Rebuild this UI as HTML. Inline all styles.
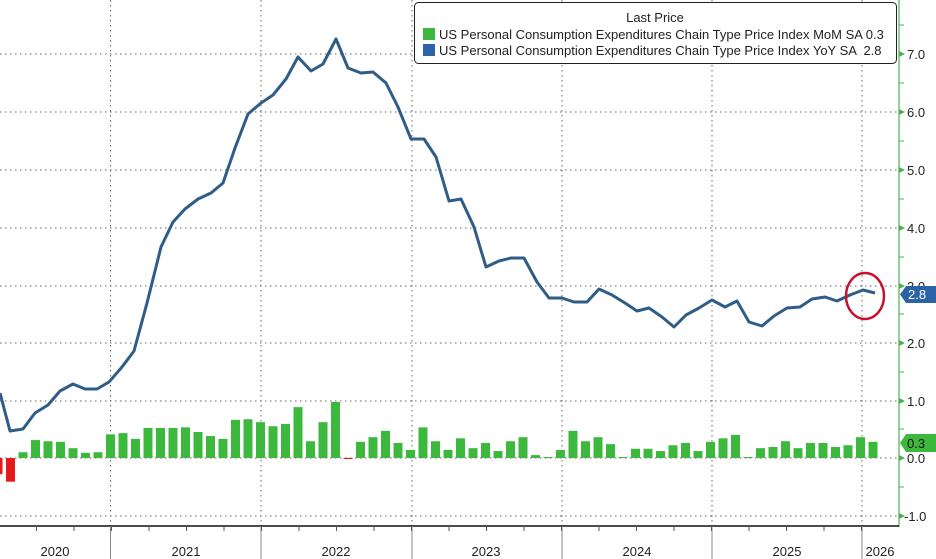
<!DOCTYPE html>
<html><head><meta charset="utf-8"><style>
html,body{margin:0;padding:0;background:#fff;}
svg{display:block;font-family:"Liberation Sans",sans-serif;}
</style></head><body>
<svg width="936" height="559" viewBox="0 0 936 559" xmlns="http://www.w3.org/2000/svg">
<rect width="936" height="559" fill="#fff"/>
<g stroke="#666" stroke-width="1" stroke-dasharray="1.5,3.5">
<line x1="0" y1="54" x2="899" y2="54"/><line x1="0" y1="112" x2="899" y2="112"/>
<line x1="0" y1="170" x2="899" y2="170"/><line x1="0" y1="228" x2="899" y2="228"/>
<line x1="0" y1="286" x2="899" y2="286"/><line x1="0" y1="343" x2="899" y2="343"/>
<line x1="0" y1="401" x2="899" y2="401"/><line x1="0" y1="458" x2="899" y2="458"/>
<line x1="0" y1="516" x2="899" y2="516"/>
<line x1="110.5" y1="0" x2="110.5" y2="526"/><line x1="261" y1="0" x2="261" y2="526"/>
<line x1="412" y1="0" x2="412" y2="526"/><line x1="562" y1="0" x2="562" y2="526"/>
<line x1="712" y1="0" x2="712" y2="526"/><line x1="862" y1="0" x2="862" y2="526"/>
</g>
<g id="bars"></g>
<polyline fill="none" stroke="#2f5d88" stroke-width="3" stroke-linejoin="round" points="0,393 10,431 23,429 35,413 48,405 60,391 73,384 85,389 97,389 109,382 122,367 134,351 147,303 161,247 173,222 185,209 198,199 211,193 223,183 235,148 248,114 261,103 273,95 286,79 298,57 311,71 323,64 336,39 348,68 361,73 373,72 386,83 398,107 411,139 424,139 436,157 449,201 461,199 474,227 486,267 499,261 511,258 524,258 537,282 549,298 562,298 574,302 587,302 599,289 612,295 625,303 637,311 649,308 662,317 674,327 686,315 699,308 712,300 725,307 737,301 749,322 762,326 774,316 787,308 800,307 812,299 825,297 837,301 850,295 863,290 875,293"/>
<ellipse cx="865" cy="296" rx="19" ry="23" fill="none" stroke="#c8102e" stroke-width="2.5"/>
<line x1="899" y1="0" x2="899" y2="527" stroke="#4caf50" stroke-width="1.2"/>
<g fill="#4caf50">
<polygon points="899,51 905,54 899,57"/><polygon points="899,109 905,112 899,115"/>
<polygon points="899,167 905,170 899,173"/><polygon points="899,225 905,228 899,231"/>
<polygon points="899,283 905,286 899,289"/><polygon points="899,340 905,343 899,346"/>
<polygon points="899,398 905,401 899,404"/><polygon points="899,455 905,458 899,461"/>
<polygon points="899,513 905,516 899,519"/>
</g>
<g stroke="#4caf50" stroke-width="1">
<line x1="899" y1="25" x2="904" y2="25"/><line x1="899" y1="83" x2="904" y2="83"/>
<line x1="899" y1="141" x2="904" y2="141"/><line x1="899" y1="199" x2="904" y2="199"/>
<line x1="899" y1="257" x2="904" y2="257"/><line x1="899" y1="314" x2="904" y2="314"/>
<line x1="899" y1="372" x2="904" y2="372"/><line x1="899" y1="429" x2="904" y2="429"/>
<line x1="899" y1="487" x2="904" y2="487"/>
</g>
<g font-size="13" fill="#222">
<text x="907" y="59">7.0</text><text x="907" y="117">6.0</text><text x="907" y="175">5.0</text>
<text x="907" y="233">4.0</text><text x="907" y="291">3.0</text><text x="907" y="348">2.0</text>
<text x="907" y="406">1.0</text><text x="907" y="463">0.0</text><text x="904" y="521">-1.0</text>
</g>
<polygon points="900,294.5 906,286 936,286 936,303 906,303" fill="#2b64a6"/>
<text x="908" y="299" font-size="13" fill="#fff">2.8</text>
<polygon points="900,443 906,434 936,434 936,452 906,452" fill="#3cb93c"/>
<text x="907" y="448" font-size="13" fill="#111">0.3</text>
<line x1="0" y1="526" x2="899" y2="526" stroke="#111" stroke-width="1.5"/>
<g stroke="#888" stroke-width="1">
<line x1="110.5" y1="526" x2="110.5" y2="559"/><line x1="261" y1="526" x2="261" y2="559"/>
<line x1="412" y1="526" x2="412" y2="559"/><line x1="562" y1="526" x2="562" y2="559"/>
<line x1="712" y1="526" x2="712" y2="559"/><line x1="862" y1="526" x2="862" y2="559"/>
</g>
<g stroke="#555" stroke-width="1" id="mt"></g>
<g font-size="13" fill="#222" text-anchor="middle">
<text x="55" y="556">2020</text><text x="186" y="556">2021</text><text x="336" y="556">2022</text>
<text x="486" y="556">2023</text><text x="637" y="556">2024</text><text x="787" y="556">2025</text>
<text x="880" y="556">2026</text>
</g>
<rect x="414.5" y="2.5" width="482" height="61" rx="4" fill="#fff" stroke="#222" stroke-width="1"/>
<text x="655" y="22" font-size="13" fill="#222" text-anchor="middle">Last Price</text>
<rect x="423" y="28" width="12" height="12" fill="#3cb93c"/>
<rect x="423" y="44" width="12" height="12" fill="#2b64a6"/>
<text x="439" y="39" font-size="13" fill="#222">US Personal Consumption Expenditures Chain Type Price Index MoM SA  0.3</text>
<text x="439" y="55" font-size="13" fill="#222" xml:space="preserve">US Personal Consumption Expenditures Chain Type Price Index YoY SA  2.8</text>
</svg>
<script>
var v=[-0.28,-0.41,0.10,0.31,0.29,0.28,0.17,0.09,0.10,0.41,0.43,0.33,0.52,0.52,0.52,0.53,0.45,0.38,0.33,0.66,0.67,0.62,0.55,0.59,0.88,0.29,0.62,0.97,-0.01,0.28,0.36,0.47,0.26,0.14,0.53,0.29,0.14,0.34,0.17,0.26,0.12,0.29,0.36,0.05,0.01,0.14,0.47,0.29,0.36,0.24,0.01,0.16,0.16,0.12,0.22,0.26,0.12,0.28,0.34,0.40,0.01,0.17,0.19,0.29,0.17,0.26,0.26,0.19,0.22,0.36,0.28];
var g=document.getElementById('bars'),NS='http://www.w3.org/2000/svg';
v.forEach(function(val,k){var cx=-2+12.5*k;var h=Math.abs(val)*57.8;if(h<1)h=1;var y=val>=0?458-h:458;
var r=document.createElementNS(NS,'rect');r.setAttribute('x',cx-4.5);r.setAttribute('y',y);r.setAttribute('width',9);r.setAttribute('height',h);r.setAttribute('fill',val<0?'#e31b1b':'#3cb93c');g.appendChild(r);});
var m=document.getElementById('mt');
for(var x=-1;x<899;x+=37.5){var l=document.createElementNS(NS,'line');l.setAttribute('x1',x);l.setAttribute('x2',x);l.setAttribute('y1',526);l.setAttribute('y2',531);m.appendChild(l);}
</script>
</body></html>
